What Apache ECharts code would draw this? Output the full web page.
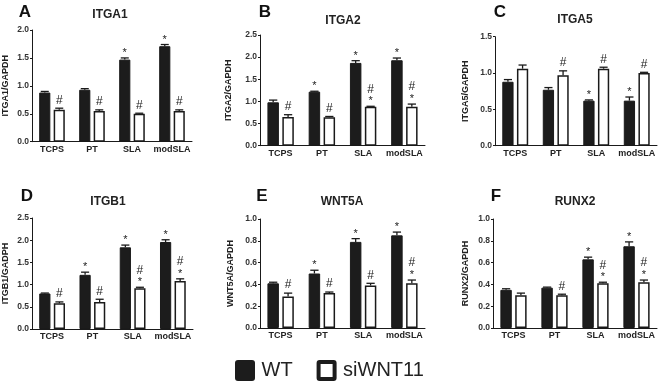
<!DOCTYPE html>
<html>
<head>
<meta charset="utf-8">
<script src="https://cdn.jsdelivr.net/npm/echarts@6/dist/echarts.min.js"></script>
<style>
  html, body { margin: 0; padding: 0; background: #fff; }
  #chart { width: 660px; height: 384px; }
</style>
</head>
<body>
<div id="chart"></div>
<script>
const categories = ['TCPS', 'PT', 'SLA', 'modSLA'];

// A - ITGA1
const itga1Wt = [0.88, 0.93, 1.47, 1.71];
const itga1WtErr = [0.02, 0.02, 0.03, 0.03];
const itga1Si = [0.57, 0.55, 0.50, 0.55];
const itga1SiErr = [0.03, 0.02, 0.01, 0.02];
const itga1WtMarks = ['', '', '*', '*'];
const itga1SiMarks = ['#', '#', '#', '#'];

// B - ITGA2
const itga2Wt = [0.98, 1.22, 1.87, 1.93];
const itga2WtErr = [0.05, 0.01, 0.05, 0.05];
const itga2Si = [0.65, 0.64, 0.88, 0.88];
const itga2SiErr = [0.05, 0.02, 0.01, 0.06];
const itga2WtMarks = ['', '*', '*', '*'];
const itga2SiMarks = ['#', '#', '#*', '#*'];

// C - ITGA5
const itga5Wt = [0.88, 0.77, 0.62, 0.62];
const itga5WtErr = [0.03, 0.03, 0.01, 0.05];
const itga5Si = [1.06, 0.97, 1.06, 1.00];
const itga5SiErr = [0.05, 0.06, 0.02, 0.01];
const itga5WtMarks = ['', '', '*', '*'];
const itga5SiMarks = ['', '#', '#', '#'];

// D - ITGB1
const itgb1Wt = [0.80, 1.22, 1.84, 1.96];
const itgb1WtErr = [0.01, 0.06, 0.05, 0.05];
const itgb1Si = [0.58, 0.61, 0.92, 1.08];
const itgb1SiErr = [0.03, 0.06, 0.02, 0.05];
const itgb1WtMarks = ['', '*', '*', '*'];
const itgb1SiMarks = ['#', '#', '#*', '#*'];

// E - WNT5A
const wnt5aWt = [0.41, 0.50, 0.79, 0.85];
const wnt5aWtErr = [0.01, 0.03, 0.03, 0.03];
const wnt5aSi = [0.29, 0.32, 0.39, 0.41];
const wnt5aSiErr = [0.03, 0.01, 0.02, 0.03];
const wnt5aWtMarks = ['', '*', '*', '*'];
const wnt5aSiMarks = ['#', '#', '#', '#*'];

// F - RUNX2
const runx2Wt = [0.35, 0.37, 0.63, 0.75];
const runx2WtErr = [0.01, 0.005, 0.02, 0.04];
const runx2Si = [0.30, 0.30, 0.41, 0.42];
const runx2SiErr = [0.02, 0.01, 0.01, 0.02];
const runx2WtMarks = ['', '', '*', '*'];
const runx2SiMarks = ['', '#', '#*', '#*'];

const FONT = 'Liberation Sans, Arial, Helvetica, sans-serif';
const INK = '#1a1a1a';

const panels = [
  { letter: 'A', title: 'ITGA1', yName: 'ITGA1/GAPDH', max: 2.0, interval: 0.5,
    wt: itga1Wt, wtErr: itga1WtErr, si: itga1Si, siErr: itga1SiErr, wtMarks: itga1WtMarks, siMarks: itga1SiMarks,
    grid: { left: 27, top: 30, width: 165, height: 111.7 }, nameGap: 22, letterPos: [25, 12], titlePos: [110, 15] },
  { letter: 'B', title: 'ITGA2', yName: 'ITGA2/GAPDH', max: 2.5, interval: 0.5,
    wt: itga2Wt, wtErr: itga2WtErr, si: itga2Si, siErr: itga2SiErr, wtMarks: itga2WtMarks, siMarks: itga2SiMarks,
    grid: { left: 260, top: 35, width: 165, height: 110.7 }, nameGap: 27, letterPos: [265, 12], titlePos: [343, 21] },
  { letter: 'C', title: 'ITGA5', yName: 'ITGA5/GAPDH', max: 1.5, interval: 0.5,
    wt: itga5Wt, wtErr: itga5WtErr, si: itga5Si, siErr: itga5SiErr, wtMarks: itga5WtMarks, siMarks: itga5SiMarks,
    grid: { left: 495, top: 36.7, width: 162, height: 109 }, nameGap: 25, letterPos: [500, 12], titlePos: [575, 20] },
  { letter: 'D', title: 'ITGB1', yName: 'ITGB1/GADPH', max: 2.5, interval: 0.5,
    wt: itgb1Wt, wtErr: itgb1WtErr, si: itgb1Si, siErr: itgb1SiErr, wtMarks: itgb1WtMarks, siMarks: itgb1SiMarks,
    grid: { left: 27, top: 218, width: 166, height: 111 }, nameGap: 22, letterPos: [27, 196], titlePos: [108, 202] },
  { letter: 'E', title: 'WNT5A', yName: 'WNT5A/GAPDH', max: 1.0, interval: 0.2,
    wt: wnt5aWt, wtErr: wnt5aWtErr, si: wnt5aSi, siErr: wnt5aSiErr, wtMarks: wnt5aWtMarks, siMarks: wnt5aSiMarks,
    grid: { left: 260, top: 219, width: 165, height: 109 }, nameGap: 25, letterPos: [262, 196], titlePos: [342, 202] },
  { letter: 'F', title: 'RUNX2', yName: 'RUNX2/GAPDH', max: 1.0, interval: 0.2,
    wt: runx2Wt, wtErr: runx2WtErr, si: runx2Si, siErr: runx2SiErr, wtMarks: runx2WtMarks, siMarks: runx2SiMarks,
    grid: { left: 493, top: 219, width: 164, height: 109 }, nameGap: 23, letterPos: [496, 196], titlePos: [575, 202] }
];

// error bar (upper only) + significance marks, placed on the bar of one side
function errSeries(idx, side, vals, errs, marks) {
  return {
    type: 'custom',
    xAxisIndex: idx,
    yAxisIndex: idx,
    z: 5,
    clip: false,
    silent: true,
    data: vals.map((v, i) => [i, v, errs[i]]),
    renderItem(params, api) {
      const i = api.value(0), v = api.value(1), e = api.value(2);
      const band = api.size([1, 0])[0];
      const w = band * 0.64 / 2.3;
      const base = api.coord([i, v]);
      const top = api.coord([i, v + e]);
      const x = base[0] + side * w * 0.65;
      const cap = w * 0.36;
      const children = [
        { type: 'line', shape: { x1: x, y1: base[1], x2: x, y2: top[1] }, style: { stroke: INK, lineWidth: 1.3 } },
        { type: 'line', shape: { x1: x - cap, y1: top[1], x2: x + cap, y2: top[1] }, style: { stroke: INK, lineWidth: 1.3 } }
      ];
      const m = marks[params.dataIndex];
      if (m.includes('*')) {
        children.push({ type: 'text', style: { text: '*', x: x, y: top[1] - 5, align: 'center', verticalAlign: 'middle',
          fontSize: 11, fontFamily: FONT, fill: '#222' } });
      }
      if (m.includes('#')) {
        children.push({ type: 'text', style: { text: '#', x: x, y: top[1] - (m.includes('*') ? 17 : 8), align: 'center',
          verticalAlign: 'middle', fontSize: 12, fontFamily: FONT, fill: '#222' } });
      }
      return { type: 'group', children: children };
    }
  };
}

const grids = [], xAxes = [], yAxes = [], series = [], graphics = [];

panels.forEach((p, idx) => {
  grids.push(Object.assign({ containLabel: false }, p.grid));
  xAxes.push({
    gridIndex: idx,
    type: 'category',
    data: categories,
    axisLine: { lineStyle: { color: INK, width: 1 } },
    axisTick: { alignWithLabel: true, length: 3, lineStyle: { color: INK } },
    axisLabel: { fontSize: 9, fontWeight: 'bold', color: '#222', margin: 3, fontFamily: FONT, interval: 0 }
  });
  yAxes.push({
    gridIndex: idx,
    type: 'value',
    min: 0,
    max: p.max,
    interval: p.interval,
    splitLine: { show: false },
    axisLine: { show: true, lineStyle: { color: INK, width: 1 } },
    axisTick: { show: true, length: 2, lineStyle: { color: INK } },
    axisLabel: { fontSize: 8.5, fontWeight: 'bold', color: '#333', margin: 3, fontFamily: FONT,
      formatter: v => v.toFixed(1) },
    name: p.yName,
    nameLocation: 'middle',
    nameRotate: 90,
    nameGap: p.nameGap,
    nameTextStyle: { fontSize: 9, fontWeight: 'bold', color: '#222', fontFamily: FONT }
  });
  series.push({
    name: 'WT', type: 'bar', xAxisIndex: idx, yAxisIndex: idx,
    barCategoryGap: '36%', barGap: '30%',
    itemStyle: { color: '#1c1c1c', borderColor: INK, borderWidth: 1 },
    data: p.wt
  });
  series.push({
    name: 'siWNT11', type: 'bar', xAxisIndex: idx, yAxisIndex: idx,
    barCategoryGap: '36%', barGap: '30%',
    itemStyle: { color: '#fff', borderColor: INK, borderWidth: 1.5 },
    data: p.si
  });
  series.push(errSeries(idx, -1, p.wt, p.wtErr, p.wtMarks));
  series.push(errSeries(idx, 1, p.si, p.siErr, p.siMarks));

  graphics.push({ type: 'text', x: p.letterPos[0], y: p.letterPos[1],
    style: { text: p.letter, align: 'center', verticalAlign: 'middle', fontSize: 17, fontWeight: 'bold',
      fontFamily: FONT, fill: '#111' } });
  graphics.push({ type: 'text', x: p.titlePos[0], y: p.titlePos[1],
    style: { text: p.title, align: 'center', verticalAlign: 'middle', fontSize: 12, fontWeight: 'bold',
      fontFamily: FONT, fill: '#222' } });
});

const chart = echarts.init(document.getElementById('chart'), null, { renderer: 'canvas' });
chart.setOption({
  animation: false,
  backgroundColor: '#fff',
  grid: grids,
  xAxis: xAxes,
  yAxis: yAxes,
  series: series,
  graphic: graphics,
  legend: {
    left: 235,
    top: 360,
    padding: 0,
    itemWidth: 21,
    itemHeight: 21,
    itemGap: 24,
    selectedMode: false,
    textStyle: { fontSize: 20, color: '#222', fontFamily: FONT, padding: [0, 0, 0, 1] },
    data: [
      { name: 'WT',
        icon: 'path://M3,0H17Q20,0 20,3V18Q20,21 17,21H3Q0,21 0,18V3Q0,0 3,0Z',
        itemStyle: { color: '#1c1c1c', borderWidth: 0, borderColor: 'transparent' } },
      { name: 'siWNT11',
        icon: 'path://M3,0H17Q20,0 20,3V18Q20,21 17,21H3Q0,21 0,18V3Q0,0 3,0Z M4,4V17H16V4Z',
        itemStyle: { color: '#1c1c1c', borderWidth: 0, borderColor: 'transparent' } }
    ]
  }
});
</script>
</body>
</html>
